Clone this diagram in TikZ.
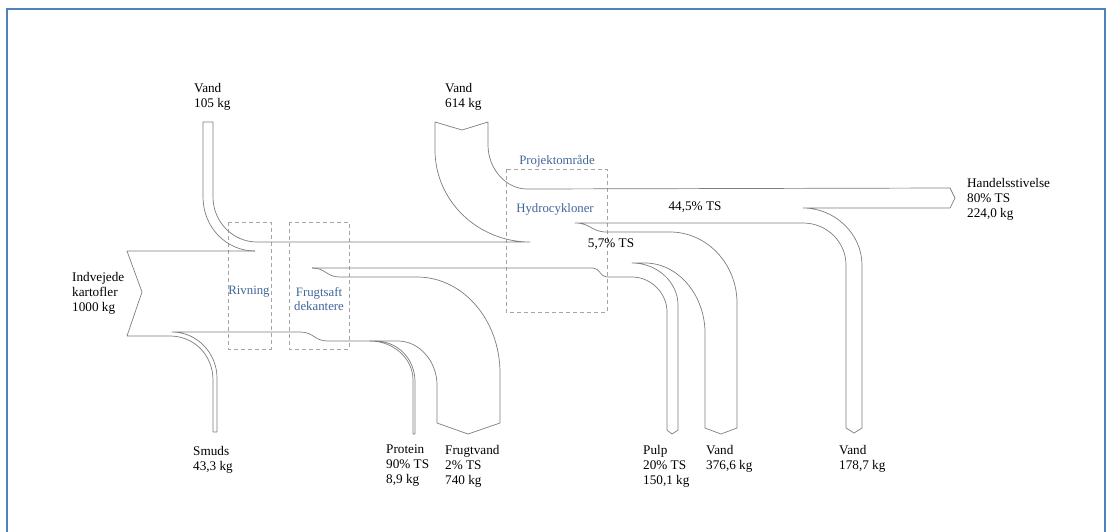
\documentclass[tikz,border=0pt]{standalone}
\usepackage{fontspec}
\setmainfont{Liberation Serif}
\usetikzlibrary{positioning}

\definecolor{framecol}{RGB}{79,129,189}
\definecolor{labelblue}{RGB}{62,102,152}
\definecolor{bandgray}{RGB}{125,125,125}
\definecolor{dashgray}{RGB}{165,165,165}

\begin{document}
\begin{tikzpicture}[x=1pt,y=-1pt,
  band/.style={draw=bandgray,line width=0.7pt,line join=round},
  area/.style={draw=dashgray,line width=0.8pt,dash pattern=on 4pt off 3pt},
  lbl/.style={anchor=north west,inner sep=0pt,align=left,
    font=\fontsize{13.2}{15}\selectfont},
  mid/.style={inner sep=0pt,font=\fontsize{13.2}{15}\selectfont},
  unit/.style={inner sep=0pt,align=center,text=labelblue,
    font=\fontsize{12.8}{14.5}\selectfont}]
  \useasboundingbox (0,0) rectangle (1110,531);
  \draw[framecol,line width=2.6pt] (7,535) -- (7,9) -- (1105,9) -- (1105,535);

  % process areas
  \draw[area] (228,222) rectangle (271,349);
  \draw[area] (289,222) rectangle (349,349);
  \draw[area] (506,169) rectangle (607,312);

  % flows
  \draw[band] (255,251) -- (127,251) -- (142,292) -- (127,336) -- (170,336)
    .. controls (194,336) and (213,355) .. (213,380) -- (213,432) -- (217,432)
    -- (217,378) .. controls (217,353) and (197,332) .. (172,332)
    -- (300,332) .. controls (314,332) and (314,341) .. (328,341) -- (398,341)
    .. controls (419,341) and (437,361) .. (437,385) -- (437,423)
    -- (468,434) -- (500,423) -- (500,373)
    .. controls (500,320) and (463,277) .. (417,277) -- (340,277)
    .. controls (326,277) and (326,268) .. (312,268);
  \draw[band] (370,341) .. controls (393,341) and (413,358) .. (413,380)
    -- (413,434) -- (415,434) -- (415,382)
    .. controls (415,358) and (397,341) .. (375,341);
  \draw[band] (312,268) -- (593,268) .. controls (600,268) and (600,277) .. (607,277)
    -- (632,277) .. controls (651,277) and (667,293) .. (667,312)
    -- (667,430) -- (672,434) -- (678,430) -- (678,305)
    .. controls (678,282) and (657,263) .. (632,263) -- (645,263)
    .. controls (678,263) and (705,295) .. (705,333) -- (705,428)
    -- (721,434) -- (737,428) -- (737,303)
    .. controls (737,264) and (707,232) .. (670,232) -- (607,232)
    .. controls (591,232) and (591,223) .. (575,223) -- (803,223)
    .. controls (827,223) and (846,242) .. (846,265) -- (846,428)
    -- (854,433) -- (862,428) -- (862,265)
    .. controls (862,234) and (835,208) .. (803,208) -- (950,208)
    -- (955,198) -- (950,188) -- (527,189)
    .. controls (506,189) and (488,169) .. (488,145) -- (488,122)
    -- (462,130) -- (435,122) -- (435,150)
    .. controls (435,201) and (478,242) .. (530,242) -- (257,242)
    .. controls (233,242) and (213,222) .. (213,197) -- (213,122)
    -- (203,122) -- (203,197) .. controls (203,227) and (226,251) .. (255,251);

  % labels
  \node[lbl] (vandA)   at (194,83)  {Vand\\105 kg};
  \node[lbl] (vandB)   at (445,83)  {Vand\\614 kg};
  \node[lbl] (kart)    at (72,272)  {Indvejede\\kartofler\\1000 kg};
  \node[lbl] (smuds)   at (193,446) {Smuds\\43,3 kg};
  \node[lbl] (protein) at (386,445) {Protein\\90\% TS\\8,9 kg};
  \node[lbl] (frugt)   at (445,445) {Frugtvand\\2\% TS\\740 kg};
  \node[lbl] (pulp)    at (643,445) {Pulp\\20\% TS\\150,1 kg};
  \node[lbl] (vandC)   at (706,445) {Vand\\376,6 kg};
  \node[lbl] (vandD)   at (839,445) {Vand\\178,7 kg};
  \node[lbl] (stiv)    at (967,178) {Handelsstivelse\\80\% TS\\224,0 kg};
  \node[mid] (tsA)     at (695,207) {44,5\% TS};
  \node[mid] (tsB)     at (611,244) {5,7\% TS};

  \node[unit] (rivning) at (249,292) {Rivning};
  \node[unit] (dekant)  at (319,299) {Frugtsaft\\dekantere};
  \node[unit] (projekt) at (557,161) {Projektområde};
  \node[unit] (hydro)   at (555,209) {Hydrocykloner};
\end{tikzpicture}
\end{document}
